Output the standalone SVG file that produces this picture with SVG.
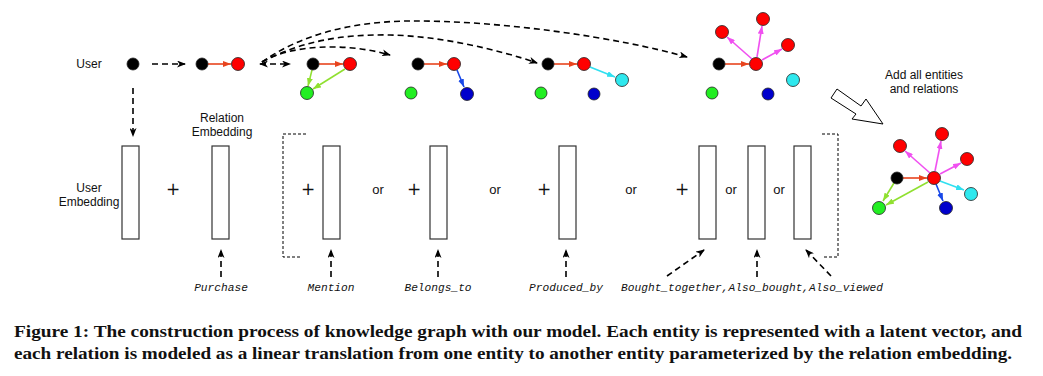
<svg xmlns="http://www.w3.org/2000/svg" width="1043" height="376" viewBox="0 0 1043 376">
<defs>
<style>
.lbl{font-family:"Liberation Sans",Arial,sans-serif;font-size:12px;fill:#111;text-anchor:middle}
.op{font-family:"Liberation Sans",Arial,sans-serif;font-size:13px;fill:#111;text-anchor:middle}
.plus{font-family:"DejaVu Sans","Liberation Sans",sans-serif;font-size:17px;fill:#111;text-anchor:middle}
.mono{font-family:"Liberation Mono","Courier New",monospace;font-style:italic;font-size:11.2px;fill:#111;text-anchor:middle}
.cap{font-family:"Liberation Serif","Times New Roman",serif;font-weight:bold;font-size:16.5px;fill:#111}
.vec{fill:#fff;stroke:#333;stroke-width:1.2}
.dash{fill:none;stroke:#000;stroke-width:1.6;stroke-dasharray:6,4}
.brk{fill:none;stroke:#000;stroke-width:1;stroke-dasharray:3,2}
.dot{stroke:#222;stroke-width:0.8}
.k{fill:#000}.r{fill:#f00}.g{fill:#2e2}.b{fill:#00c}.c{fill:#2ee8ee}
.er{stroke:#e8441e;stroke-width:1.6;fill:none}
.eg{stroke:#90e030;stroke-width:1.6;fill:none}
.eb{stroke:#1848e8;stroke-width:1.6;fill:none}
.ec{stroke:#30e0f0;stroke-width:1.6;fill:none}
.em{stroke:#f050f0;stroke-width:1.6;fill:none}
</style>
<marker id="ak" viewBox="0 0 9 7" refX="8" refY="3.5" markerWidth="9" markerHeight="7" markerUnits="userSpaceOnUse" orient="auto"><path d="M0,0 L9,3.5 L0,7 L2.5,3.5 z" fill="#000"/></marker>
<marker id="aks" viewBox="0 0 9 7" refX="1" refY="3.5" markerWidth="9" markerHeight="7" markerUnits="userSpaceOnUse" orient="auto"><path d="M9,0 L0,3.5 L9,7 L6.5,3.5 z" fill="#000"/></marker>
<marker id="ar" viewBox="0 0 8 6" refX="8" refY="3" markerWidth="8" markerHeight="6" markerUnits="userSpaceOnUse" orient="auto"><path d="M0,0 L8,3 L0,6 z" fill="#e8441e"/></marker>
<marker id="ag" viewBox="0 0 8 6" refX="8" refY="3" markerWidth="8" markerHeight="6" markerUnits="userSpaceOnUse" orient="auto"><path d="M0,0 L8,3 L0,6 z" fill="#90e030"/></marker>
<marker id="ab" viewBox="0 0 8 6" refX="8" refY="3" markerWidth="8" markerHeight="6" markerUnits="userSpaceOnUse" orient="auto"><path d="M0,0 L8,3 L0,6 z" fill="#1848e8"/></marker>
<marker id="ac" viewBox="0 0 8 6" refX="8" refY="3" markerWidth="8" markerHeight="6" markerUnits="userSpaceOnUse" orient="auto"><path d="M0,0 L8,3 L0,6 z" fill="#30e0f0"/></marker>
<marker id="am" viewBox="0 0 8 6" refX="8" refY="3" markerWidth="8" markerHeight="6" markerUnits="userSpaceOnUse" orient="auto"><path d="M0,0 L8,3 L0,6 z" fill="#f050f0"/></marker>
</defs>
<rect width="1043" height="376" fill="#fff"/>

<g id="connectors">
<line class="dash" x1="152" y1="64" x2="185" y2="64" marker-end="url(#ak)"/>
<line class="dash" x1="133" y1="88" x2="133" y2="136" marker-end="url(#ak)"/>
<line class="dash" x1="260" y1="64" x2="290" y2="64" marker-start="url(#aks)" marker-end="url(#ak)"/>
<path class="dash" d="M262,62 C290,45 345,42 390,55" marker-end="url(#ak)"/>
<path class="dash" d="M262,62 C300,42 340,34 390,35 C440,36 500,50 537,63" marker-end="url(#ak)"/>
<path class="dash" d="M262,62 C300,35 350,22 407,21 C500,20 620,38 687,57" marker-end="url(#ak)"/>
<line class="er" x1="208" y1="64" x2="231" y2="64" marker-end="url(#ar)"/>
<line class="er" x1="319" y1="64" x2="343" y2="64" marker-end="url(#ar)"/>
<line class="eg" x1="312" y1="70" x2="308" y2="86" marker-end="url(#ag)"/>
<line class="eg" x1="345" y1="69" x2="313" y2="89" marker-end="url(#ag)"/>
<line class="er" x1="424" y1="64" x2="447" y2="64" marker-end="url(#ar)"/>
<line class="eb" x1="457" y1="70" x2="464" y2="87" marker-end="url(#ab)"/>
<line class="er" x1="554" y1="64" x2="577" y2="64" marker-end="url(#ar)"/>
<line class="ec" x1="590" y1="67" x2="615" y2="77" marker-end="url(#ac)"/>
<line class="er" x1="725" y1="64" x2="749" y2="64" marker-end="url(#ar)"/>
<line class="em" x1="752" y1="59" x2="727" y2="37" marker-end="url(#am)"/>
<line class="em" x1="757" y1="57" x2="762" y2="26" marker-end="url(#am)"/>
<line class="em" x1="762" y1="60" x2="782" y2="49" marker-end="url(#am)"/>
<line class="er" x1="903" y1="178" x2="927" y2="178" marker-end="url(#ar)"/>
<line class="em" x1="930" y1="173" x2="905" y2="151" marker-end="url(#am)"/>
<line class="em" x1="935" y1="171" x2="941" y2="141" marker-end="url(#am)"/>
<line class="em" x1="940" y1="174" x2="961" y2="163" marker-end="url(#am)"/>
<line class="ec" x1="940" y1="181" x2="964" y2="190" marker-end="url(#ac)"/>
<line class="eb" x1="936" y1="184" x2="943" y2="201" marker-end="url(#ab)"/>
<line class="eg" x1="894" y1="183" x2="883" y2="201" marker-end="url(#ag)"/>
<line class="eg" x1="928" y1="182" x2="886" y2="205" marker-end="url(#ag)"/>
<line class="dash" x1="221" y1="277" x2="221" y2="250" marker-end="url(#ak)"/>
<line class="dash" x1="331" y1="277" x2="331" y2="250" marker-end="url(#ak)"/>
<line class="dash" x1="438" y1="277" x2="438" y2="250" marker-end="url(#ak)"/>
<line class="dash" x1="566" y1="277" x2="566" y2="250" marker-end="url(#ak)"/>
<line class="dash" x1="757" y1="277" x2="757" y2="250" marker-end="url(#ak)"/>
<line class="dash" x1="667" y1="276" x2="704" y2="250" marker-end="url(#ak)"/>
<line class="dash" x1="831" y1="276" x2="806" y2="250" marker-end="url(#ak)"/>
<polyline class="brk" points="306,134 283,134 283,257 300,257"/>
<polyline class="brk" points="822,134 838,134 838,257 824,257"/>
<polygon points="837,89 861,106 866,99 883,124 852,119 856,114 831,98" fill="#fff" stroke="#000" stroke-width="1"/>
</g>

<g id="user-node">
<text class="lbl" x="89" y="68">User</text>
<circle class="dot k" cx="133" cy="64" r="6"/>
</g>
<g id="step1">
<circle class="dot k" cx="202" cy="64" r="6"/>
<circle class="dot r" cx="238" cy="64" r="6.5"/>
</g>
<g id="step2">
<circle class="dot k" cx="313" cy="64" r="6"/>
<circle class="dot r" cx="350" cy="64" r="6.5"/>
<circle class="dot g" cx="307" cy="93" r="6.5"/>
</g>
<g id="step3">
<circle class="dot k" cx="418" cy="64" r="6"/>
<circle class="dot r" cx="454" cy="64" r="6.5"/>
<circle class="dot g" cx="411" cy="93" r="6"/>
<circle class="dot b" cx="467" cy="94" r="6.5"/>
</g>
<g id="step4">
<circle class="dot k" cx="548" cy="64" r="6"/>
<circle class="dot r" cx="584" cy="64" r="6.5"/>
<circle class="dot c" cx="622" cy="80" r="6.5"/>
<circle class="dot g" cx="541" cy="93" r="6"/>
<circle class="dot b" cx="594" cy="94" r="6"/>
</g>
<g id="step5">
<circle class="dot k" cx="719" cy="64" r="6"/>
<circle class="dot r" cx="756" cy="64" r="6.5"/>
<circle class="dot r" cx="722" cy="32" r="6.5"/>
<circle class="dot r" cx="763" cy="19" r="6.5"/>
<circle class="dot r" cx="788" cy="45" r="6.5"/>
<circle class="dot c" cx="793" cy="80" r="6.5"/>
<circle class="dot g" cx="712" cy="93" r="6"/>
<circle class="dot b" cx="768" cy="94" r="6"/>
</g>
<g id="final-graph">
<text class="lbl" x="924" y="79">Add all entities</text>
<text class="lbl" x="924" y="93">and relations</text>
<circle class="dot k" cx="897" cy="178" r="6"/>
<circle class="dot r" cx="934" cy="178" r="6.5"/>
<circle class="dot r" cx="900" cy="146" r="6.5"/>
<circle class="dot r" cx="942" cy="134" r="6.5"/>
<circle class="dot r" cx="967" cy="159" r="6.5"/>
<circle class="dot c" cx="971" cy="194" r="6.5"/>
<circle class="dot g" cx="879" cy="208" r="6.5"/>
<circle class="dot b" cx="946" cy="208" r="6.5"/>
</g>
<g id="user-embedding">
<text class="lbl" x="89" y="192">User</text>
<text class="lbl" x="89" y="206">Embedding</text>
<rect class="vec" x="122" y="146" width="17" height="93"/>
</g>
<text class="plus" x="173" y="195">+</text>
<g id="relation-embedding">
<text class="lbl" x="222" y="122">Relation</text>
<text class="lbl" x="222" y="136">Embedding</text>
<rect class="vec" x="212" y="146" width="17" height="93"/>
<text class="mono" x="221" y="291">Purchase</text>
</g>
<g id="mention">
<text class="plus" x="308" y="195">+</text>
<rect class="vec" x="323" y="146" width="17" height="93"/>
<text class="mono" x="331" y="291">Mention</text>
</g>
<text class="op" x="378" y="194">or</text>
<g id="belongs-to">
<text class="plus" x="414" y="195">+</text>
<rect class="vec" x="430" y="146" width="17" height="93"/>
<text class="mono" x="438" y="291">Belongs_to</text>
</g>
<text class="op" x="495" y="194">or</text>
<g id="produced-by">
<text class="plus" x="544" y="195">+</text>
<rect class="vec" x="559" y="146" width="17" height="93"/>
<text class="mono" x="566" y="291">Produced_by</text>
</g>
<text class="op" x="631" y="194">or</text>
<g id="bought-also">
<text class="plus" x="682" y="195">+</text>
<rect class="vec" x="699" y="146" width="17" height="93"/>
<text class="op" x="731" y="194">or</text>
<rect class="vec" x="748" y="146" width="17" height="93"/>
<text class="op" x="779" y="194">or</text>
<rect class="vec" x="794" y="146" width="17" height="93"/>
<text class="mono" x="752" y="291">Bought_together,Also_bought,Also_viewed</text>
</g>
<g id="caption">
<text class="cap" x="14" y="337" textLength="1008" lengthAdjust="spacingAndGlyphs">Figure 1: The construction process of knowledge graph with our model. Each entity is represented with a latent vector, and</text>
<text class="cap" x="14" y="359" textLength="998" lengthAdjust="spacingAndGlyphs">each relation is modeled as a linear translation from one entity to another entity parameterized by the relation embedding.</text>
</g>
</svg>
